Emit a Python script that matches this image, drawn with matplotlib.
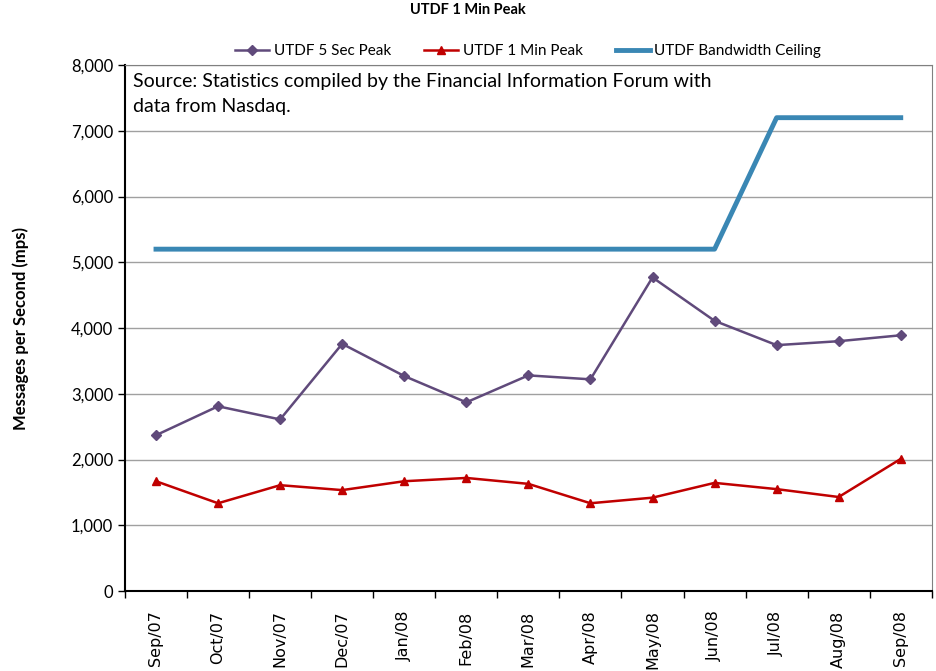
import numpy as np
import matplotlib
matplotlib.use('Agg')
import matplotlib.pyplot as plt
from matplotlib.ticker import FuncFormatter

months = ['Sep/07', 'Oct/07', 'Nov/07', 'Dec/07', 'Jan/08', 'Feb/08', 'Mar/08',
          'Apr/08', 'May/08', 'Jun/08', 'Jul/08', 'Aug/08', 'Sep/08']
peak_5sec = [2370, 2810, 2610, 3760, 3270, 2870, 3280, 3220, 4770, 4110, 3740, 3800, 3890]
peak_1min = [1670, 1335, 1610, 1535, 1670, 1720, 1630, 1335, 1420, 1645, 1550, 1430, 2010]
ceiling = [5200, 5200, 5200, 5200, 5200, 5200, 5200, 5200, 5200, 5200, 7200, 7200, 7200]

narrow = ['Lato', 'DejaVu Sans']

fig = plt.figure(figsize=(9.36, 6.71), dpi=100)
ax = fig.add_axes([0.1335, 0.1192, 0.862, 0.7838])

x = np.arange(len(months))
ax.plot(x, peak_5sec, color='#604a7b', marker='D', markersize=5, lw=1.8, label='UTDF 5 Sec Peak')
ax.plot(x, peak_1min, color='#c00000', marker='^', markersize=6, lw=1.8, label='UTDF 1 Min Peak')
ax.plot(x, ceiling, color='#3a87b4', lw=3.5, label='UTDF Bandwidth Ceiling')

ax.set_xlim(-0.5, len(months) - 0.5)
ax.set_ylim(0, 8000)
ax.set_yticks(range(0, 8001, 1000))
ax.yaxis.set_major_formatter(FuncFormatter(lambda v, p: f'{int(v):,}'))
ax.grid(axis='y', color='#a0a0a0', lw=1)
ax.set_axisbelow(True)

ax.set_xticks(x)
ax.set_xticklabels(months, rotation=90, fontsize=11.5, family='DejaVu Sans')
ax.set_xticks(np.arange(-0.5, len(months), 1), minor=True)
ax.tick_params(axis='x', which='major', length=0, pad=14)
ax.tick_params(axis='x', which='minor', length=5, width=1)
ax.tick_params(axis='y', length=5, width=1)
for lab in ax.get_yticklabels():
    lab.set_family(narrow)
    lab.set_fontsize(12)

for s in ['top', 'right']:
    ax.spines[s].set_color('#808080')
    ax.spines[s].set_linewidth(0.8)
ax.spines['left'].set_linewidth(1.5)
ax.spines['bottom'].set_linewidth(1.5)

ax.set_ylabel('Messages per Second (mps)', fontsize=12, fontweight='bold', family=narrow, labelpad=30)

ax.text(0.01, 0.985, 'Source: Statistics compiled by the Financial Information Forum with\ndata from Nasdaq.',
        transform=ax.transAxes, va='top', ha='left', fontsize=14, family=narrow, linespacing=1.6)

fig.text(0.5, 0.995, 'UTDF 1 Min Peak', ha='center', va='top', fontsize=10.5, fontweight='bold', family=narrow)

ax.legend(loc='lower center', bbox_to_anchor=(0.5, 1.0), ncol=3, frameon=False,
          prop={'family': narrow, 'size': 11}, handlelength=2.2, columnspacing=2.2,
          borderaxespad=0.05, handletextpad=0.3)

fig.savefig('out.png', dpi=100)
